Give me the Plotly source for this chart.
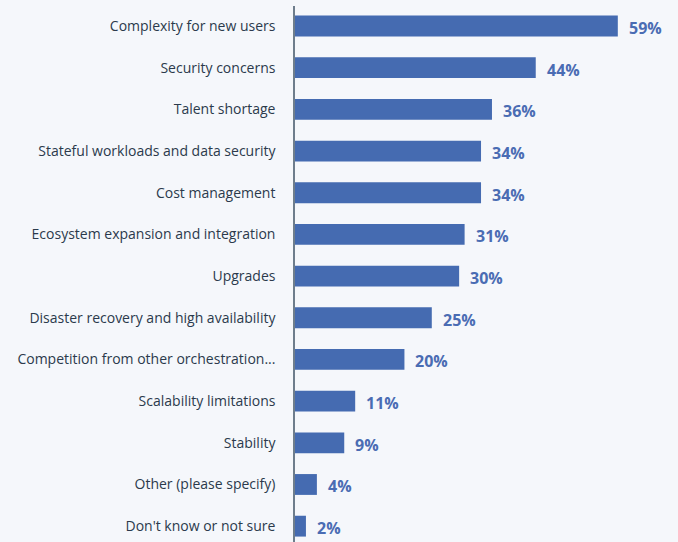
import plotly.graph_objects as go

# Survey responses: challenges, share of respondents (%)
categories = [
    "Complexity for new users",
    "Security concerns",
    "Talent shortage",
    "Stateful workloads and data security",
    "Cost management",
    "Ecosystem expansion and integration",
    "Upgrades",
    "Disaster recovery and high availability",
    "Competition from other orchestration...",
    "Scalability limitations",
    "Stability",
    "Other (please specify)",
    "Don't know or not sure",
]
values = [59, 44, 36, 34, 34, 31, 30, 25, 20, 11, 9, 4, 2]

BAR_BLUE = "#456bb1"
LABEL_BLUE = "#4a6cb3"
BG = "#f5f7fb"

fig = go.Figure(
    go.Bar(
        x=values,
        y=categories,
        orientation="h",
        marker=dict(color=BAR_BLUE, line=dict(width=0)),
        width=0.5,
        hoverinfo="skip",
    )
)

# Value labels to the right of each bar
for cat, val in zip(categories, values):
    fig.add_annotation(
        x=val,
        y=cat,
        text=f"<b>{val}%</b>",
        showarrow=False,
        xanchor="left",
        yanchor="middle",
        xshift=9,
        yshift=-2,
        font=dict(family="Open Sans, sans-serif", size=16, color=LABEL_BLUE),
    )

fig.update_layout(
    width=678,
    height=542,
    margin=dict(l=295, r=0, t=6, b=0),
    paper_bgcolor=BG,
    plot_bgcolor=BG,
    showlegend=False,
    bargap=0.5,
)

fig.update_xaxes(
    range=[0, 70],
    visible=False,
    showgrid=False,
    zeroline=False,
)

fig.update_yaxes(
    type="category",
    categoryorder="array",
    categoryarray=categories,
    range=[12.38, -0.48],
    showgrid=False,
    zeroline=False,
    showline=True,
    linecolor="#6e7d8c",
    linewidth=1.5,
    ticks="",
    ticklabelstandoff=15,
    tickfont=dict(family="Open Sans, sans-serif", size=14, color="#2b3a4c"),
)

fig.write_html("out.html")
